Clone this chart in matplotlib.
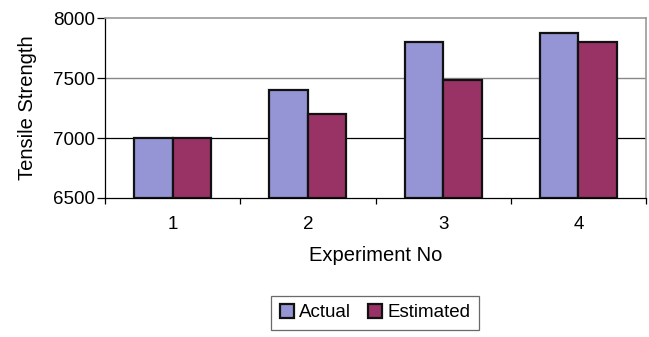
import numpy as np
import matplotlib.pyplot as plt

plt.rcParams['font.family'] = ['Liberation Sans', 'DejaVu Sans']

experiments = ['1', '2', '3', '4']
actual = [7000, 7400, 7800, 7875]
estimated = [7000, 7200, 7485, 7800]

fig = plt.figure(figsize=(6.49, 3.37), dpi=100)
ax = fig.add_axes([0.1618, 0.4125, 0.8336, 0.534])

x = np.arange(len(experiments))
w = 0.285
ax.bar(x - w / 2, [a - 6500 for a in actual], w, bottom=6500, color='#9595D5',
       edgecolor='#111111', linewidth=1.6, label='Actual', zorder=3)
ax.bar(x + w / 2, [e - 6500 for e in estimated], w, bottom=6500, color='#993366',
       edgecolor='#111111', linewidth=1.6, label='Estimated', zorder=3)

ax.set_xlim(-0.5, len(experiments) - 0.5)
ax.set_ylim(6500, 8000)
ax.set_yticks([6500, 7000, 7500, 8000])
ax.tick_params(axis='y', labelsize=13.5, length=5.5, width=0.9, pad=1.5)

# gridlines as drawn by the spreadsheet
ax.axhline(7000, color='black', linewidth=0.9, zorder=1)
ax.axhline(7500, color='#888888', linewidth=1.0, zorder=1)

ax.set_xticks(x)
ax.set_xticklabels(experiments)
ax.set_xticks(np.arange(-0.5, len(experiments)), minor=True)
ax.tick_params(axis='x', which='major', length=0, labelsize=13.5, pad=13)
ax.tick_params(axis='x', which='minor', length=4, width=0.9)

for side in ['top', 'right']:
    ax.spines[side].set_color('#999999')
    ax.spines[side].set_linewidth(1.2)
ax.spines['left'].set_linewidth(0.9)
ax.spines['bottom'].set_linewidth(0.9)

ax.set_ylabel('Tensile Strength', fontsize=14.5, labelpad=12)
ax.set_xlabel('Experiment No', fontsize=14.5, labelpad=9)

leg = fig.legend(loc='center', bbox_to_anchor=(0.5783, 0.072), ncol=2, fontsize=13.5,
                 frameon=True, fancybox=False, edgecolor='#444444',
                 handlelength=0.75, handleheight=0.75, handletextpad=0.3,
                 columnspacing=0.9, borderpad=0.45, borderaxespad=0)
leg.get_frame().set_linewidth(0.9)

fig.savefig('out.png', dpi=100)
